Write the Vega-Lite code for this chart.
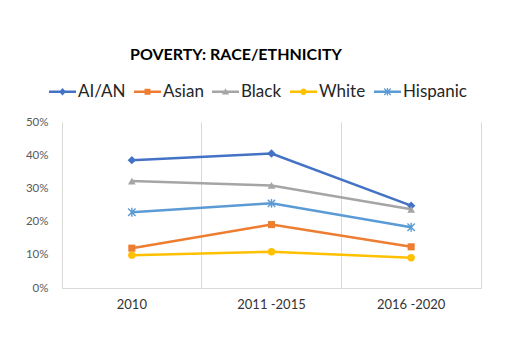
{
  "$schema": "https://vega.github.io/schema/vega-lite/v6.json",
  "width": 419,
  "height": 166,
  "autosize": {"type": "none"},
  "padding": {"left": 62, "top": 122, "right": 26, "bottom": 72},
  "background": "white",
  "config": {
    "font": "Lato",
    "view": {"stroke": null},
    "axis": {"ticks": false, "title": null, "domainColor": "#d9d9d9", "gridColor": "#d9d9d9", "labelFont": "Lato"},
    "legend": {
      "orient": "none", "legendX": -13, "legendY": -44, "direction": "horizontal", "columns": 5,
      "title": null, "labelFontSize": 17, "labelColor": "#262626", "labelFont": "Lato",
      "symbolSize": 729, "symbolStrokeWidth": 0, "symbolOpacity": 1, "labelOffset": 2, "columnPadding": 8, "padding": 0
    }
  },
  "title": {"text": "POVERTY: RACE/ETHNICITY", "anchor": "start", "frame": "group", "dx": 68, "offset": 15, "fontSize": 16, "fontWeight": "bold", "color": "#000000", "font": "Lato"},
  "data": {"values": [
    {"period": "2010", "series": "AI/AN", "value": 0.385},
    {"period": "2011 -2015", "series": "AI/AN", "value": 0.405},
    {"period": "2016 -2020", "series": "AI/AN", "value": 0.248},
    {"period": "2010", "series": "Asian", "value": 0.120},
    {"period": "2011 -2015", "series": "Asian", "value": 0.191},
    {"period": "2016 -2020", "series": "Asian", "value": 0.124},
    {"period": "2010", "series": "Black", "value": 0.322},
    {"period": "2011 -2015", "series": "Black", "value": 0.309},
    {"period": "2016 -2020", "series": "Black", "value": 0.237},
    {"period": "2010", "series": "White", "value": 0.099},
    {"period": "2011 -2015", "series": "White", "value": 0.109},
    {"period": "2016 -2020", "series": "White", "value": 0.091},
    {"period": "2010", "series": "Hispanic", "value": 0.228},
    {"period": "2011 -2015", "series": "Hispanic", "value": 0.255},
    {"period": "2016 -2020", "series": "Hispanic", "value": 0.183}
  ]},
  "encoding": {
    "x": {"field": "period", "type": "nominal", "sort": ["2010", "2011 -2015", "2016 -2020"],
      "scale": {"type": "band", "paddingInner": 0, "paddingOuter": 0},
      "axis": {"grid": true, "bandPosition": 0, "labelAngle": 0, "domain": true, "labelPadding": 10, "labelFontSize": 13, "labelColor": "#333333"}},
    "y": {"field": "value", "type": "quantitative", "scale": {"domain": [0, 0.5]},
      "axis": {"values": [0, 0.1, 0.2, 0.3, 0.4, 0.5], "format": ".0%", "grid": false, "domain": true, "labelPadding": 14, "labelFontSize": 11.5, "labelColor": "#595959"}},
    "color": {"field": "series", "type": "nominal",
      "scale": {"domain": ["AI/AN", "Asian", "Black", "White", "Hispanic"], "range": ["#4472C4", "#ED7D31", "#A5A5A5", "#FFC000", "#5B9BD5"]}}
  },
  "layer": [
    {
      "mark": {"type": "point", "filled": true, "opacity": 0},
      "encoding": {
        "y": {"field": "value", "type": "quantitative", "axis": {"orient": "right", "labels": false, "ticks": false, "grid": false, "domain": true, "domainColor": "#d9d9d9", "title": null}},
        "shape": {"field": "series", "type": "nominal",
          "scale": {"domain": ["AI/AN", "Asian", "Black", "White", "Hispanic"], "range": [
            "M-1,-0.09H1V0.09H-1Z M0,-0.27L0.26,0L0,0.27L-0.26,0Z",
            "M-1,-0.09H1V0.09H-1Z M-0.22,-0.22H0.22V0.22H-0.22Z",
            "M-1,-0.09H1V0.09H-1Z M0,-0.26L0.27,0.2L-0.27,0.2Z",
            "M-1,-0.09H1V0.09H-1Z M-0.24,0A0.24,0.24 0 1,1 0.24,0A0.24,0.24 0 1,1 -0.24,0Z",
            "M-1,-0.09H1V0.09H-1Z M-0.045,-0.28H0.045V0.28H-0.045Z M-0.208,-0.272L0.272,0.208L0.208,0.272L-0.272,-0.208Z M0.208,-0.272L0.272,-0.208L-0.208,0.272L-0.272,0.208Z"
          ]}}
      }
    },
    {
      "mark": {"type": "line", "strokeWidth": 2.5}
    },
    {
      "transform": [{"filter": "datum.series === 'AI/AN'"}],
      "mark": {"type": "point", "shape": "diamond", "filled": true, "size": 70, "opacity": 1},
      "encoding": {"y": {"field": "value", "type": "quantitative", "axis": null}}
    },
    {
      "transform": [{"filter": "datum.series === 'Asian'"}],
      "mark": {"type": "point", "shape": "square", "filled": true, "size": 50, "opacity": 1},
      "encoding": {"y": {"field": "value", "type": "quantitative", "axis": null}}
    },
    {
      "transform": [{"filter": "datum.series === 'Black'"}],
      "mark": {"type": "point", "shape": "triangle-up", "filled": true, "size": 60, "opacity": 1},
      "encoding": {"y": {"field": "value", "type": "quantitative", "axis": null}}
    },
    {
      "transform": [{"filter": "datum.series === 'White'"}],
      "mark": {"type": "point", "shape": "circle", "filled": true, "size": 55, "opacity": 1},
      "encoding": {"y": {"field": "value", "type": "quantitative", "axis": null}}
    },
    {
      "transform": [{"filter": "datum.series === 'Hispanic'"}],
      "mark": {"type": "point", "shape": "M-1,-1L1,1M1,-1L-1,1M0,-1.2L0,1.2", "filled": false, "size": 55, "strokeWidth": 1.4, "opacity": 1},
      "encoding": {"y": {"field": "value", "type": "quantitative", "axis": null}}
    }
  ],
  "resolve": {"axis": {"y": "independent"}}
}
